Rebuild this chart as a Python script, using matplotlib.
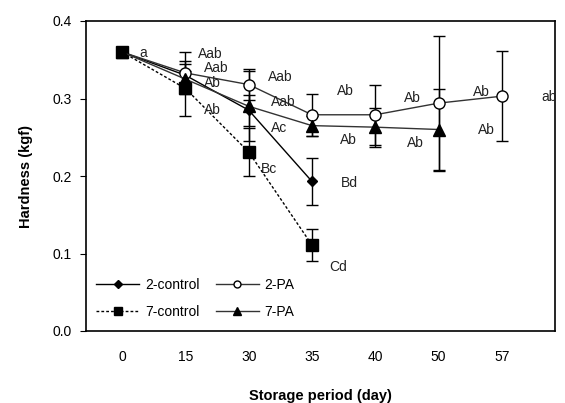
import matplotlib
matplotlib.use("Agg")
import matplotlib.pyplot as plt
from matplotlib.lines import Line2D
import numpy as np

plt.rcParams['font.family'] = ['Liberation Sans', 'DejaVu Sans']

days = ["0", "15", "30", "35", "40", "50", "57"]

ctrl2 = [0.360, 0.330, 0.285, 0.193]
ctrl2_err = [0.0, 0.015, 0.020, 0.030]
pa2 = [0.360, 0.333, 0.318, 0.279, 0.279, 0.294, 0.303]
pa2_err = [0.0, 0.027, 0.020, 0.027, 0.039, 0.087, 0.058]
ctrl7 = [0.360, 0.313, 0.231, 0.111]
ctrl7_err = [0.0, 0.035, 0.031, 0.021]
pa7 = [0.360, 0.325, 0.290, 0.265, 0.263, 0.260]
pa7_err = [0.0, 0.010, 0.045, 0.013, 0.025, 0.052]

labels_text = ["a", "Aab", "Aab", "Ab", "Ab", "Aab", "Aab", "Ac", "Bc",
               "Ab", "Ab", "Bd", "Cd", "Ab", "Ab", "Ab", "Ab", "ab"]
labels_pos = [(0.27, 0.359), (1.2, 0.357), (1.3, 0.339), (1.3, 0.320), (1.3, 0.285),
              (2.3, 0.328), (2.35, 0.295), (2.35, 0.262), (2.2, 0.209),
              (3.4, 0.310), (3.45, 0.247), (3.45, 0.191), (3.27, 0.083),
              (4.45, 0.300), (4.5, 0.243), (5.55, 0.308), (5.62, 0.259), (6.62, 0.302)]

fig = plt.figure(figsize=(5.65, 4.03), dpi=100)
ax = fig.add_axes([86/565, 1-331/403, (555-86)/565, (331-21)/403])

x = np.arange(len(days))
ekw = dict(ecolor='black', elinewidth=1.0, capsize=4, capthick=1.0)
ax.errorbar(x[:len(ctrl2)], ctrl2, yerr=ctrl2_err, color='black', lw=1.0, marker='D',
            ms=5, mfc='black', mec='black', **ekw)
ax.errorbar(x[:len(pa2)], pa2, yerr=pa2_err, color='#333333', lw=1.0, marker='o',
            ms=8, mfc='white', mec='black', **ekw)
ax.errorbar(x[:len(ctrl7)], ctrl7, yerr=ctrl7_err, color='black', lw=1.0, ls=(0, (2, 1.5)),
            marker='s', ms=8, mfc='black', mec='black', **ekw)
ax.errorbar(x[:len(pa7)], pa7, yerr=pa7_err, color='#333333', lw=1.0, marker='^',
            ms=8, mfc='black', mec='black', **ekw)

for t, (px, py) in zip(labels_text, labels_pos):
    ax.text(px, py, t, fontsize=10, va='center', ha='left', color='#222222')

ax.set_xlim(-0.57, 6.84)
ax.set_ylim(0.0, 0.4)
ax.set_xticks(x)
ax.set_xticklabels(days)
ax.set_yticks([0.0, 0.1, 0.2, 0.3, 0.4])
ax.set_yticklabels(["0.0", "0.1", "0.2", "0.3", "0.4"])
ax.tick_params(axis='x', length=0, pad=14, labelsize=10)
ax.tick_params(axis='y', length=4, direction='out', labelsize=10, pad=6)
for s in ax.spines.values():
    s.set_linewidth(1.2)
ax.set_xlabel("Storage period (day)", fontsize=10.5, fontweight='bold', labelpad=18)
ax.set_ylabel("Hardness (kgf)", fontsize=10.5, fontweight='bold', labelpad=14)

h_c2 = Line2D([], [], color='black', lw=1.0, marker='D', ms=4, mfc='black', mec='black')
h_p2 = Line2D([], [], color='#333333', lw=1.0, marker='o', ms=5, mfc='white', mec='black')
h_c7 = Line2D([], [], color='black', lw=1.0, ls=(0, (2, 1.5)), marker='s', ms=5.5,
              mfc='black', mec='black')
h_p7 = Line2D([], [], color='#333333', lw=1.0, marker='^', ms=5.5, mfc='black', mec='black')
ax.legend([h_c2, h_c7, h_p2, h_p7], ['2-control', '7-control', '2-PA', '7-PA'],
          ncol=2, loc='lower left', frameon=False, fontsize=10,
          handlelength=3.1, columnspacing=1.2, handletextpad=0.4,
          bbox_to_anchor=(-0.005, 0.0), labelspacing=0.9)

fig.savefig("out.png", dpi=100)
